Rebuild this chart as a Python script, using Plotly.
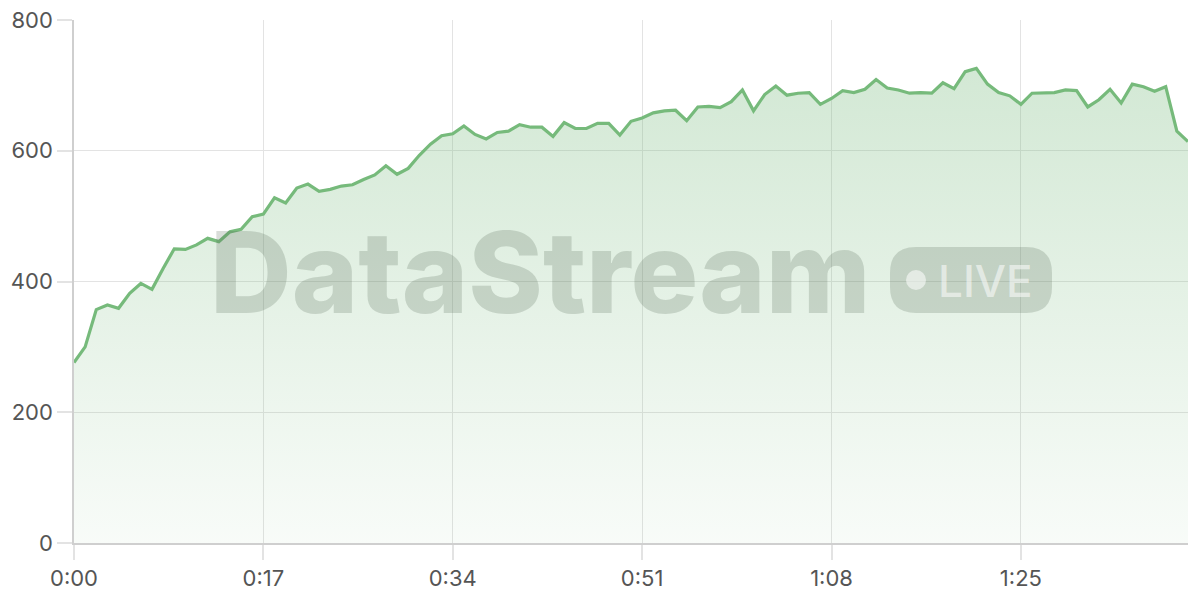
import plotly.graph_objects as go

# seconds since start, one sample per second
seconds = list(range(0, 101))
values = [
    276, 300, 357, 364, 359, 382, 397, 388, 420, 450,
    449, 456, 466, 461, 476, 480, 499, 503, 528, 520,
    543, 549, 538, 541, 546, 548, 556, 563, 577, 564,
    573, 593, 610, 623, 626, 638, 625, 618, 628, 630,
    640, 636, 636, 622, 643, 634, 634, 642, 642, 624,
    645, 650, 658, 661, 662, 646, 667, 668, 666, 675,
    693, 661, 686, 699, 685, 688, 689, 671, 680, 692,
    689, 694, 709, 696, 693, 688, 689, 688, 704, 695,
    721, 726, 702, 689, 684, 671, 688, 689, 689, 693,
    692, 667, 678, 694, 673, 702, 698, 691, 698, 630,
    614,
]

x_ticks = [0, 17, 34, 51, 68, 85]
x_tick_labels = ["0:00", "0:17", "0:34", "0:51", "1:08", "1:25"]
y_ticks = [0, 200, 400, 600, 800]

LINE = "rgb(118,186,123)"
GRID = "#e3e3e3"
WM = "rgba(80,100,80,0.22)"

fig = go.Figure()
fig.add_trace(go.Scatter(
    x=seconds, y=values, mode="lines",
    line=dict(color=LINE, width=3.2),
    fill="tozeroy",
    fillgradient=dict(
        type="vertical",
        colorscale=[[0, "rgba(116,184,122,0.05)"], [1, "rgba(116,184,122,0.32)"]],
    ),
    hoverinfo="skip",
    showlegend=False,
))

# watermark (positions below are in screen pixels of the plot area)
W, H, L, B = 1114.0, 523.0, 74.0, 543.0
px = lambda v: (v - L) / W
py = lambda v: (B - v) / H

fig.add_annotation(
    text="DataStream", xref="paper", yref="paper",
    x=px(540), y=py(272), xanchor="center", yanchor="middle",
    showarrow=False, font=dict(family="Inter", size=113, weight=800, color=WM),
)


def pill(x0, x1, y0, y1, r):
    # rounded rectangle, quadratic corners
    return (
        f"M {px(x0 + r)} {py(y0)} L {px(x1 - r)} {py(y0)} "
        f"Q {px(x1)} {py(y0)} {px(x1)} {py(y0 + r)} L {px(x1)} {py(y1 - r)} "
        f"Q {px(x1)} {py(y1)} {px(x1 - r)} {py(y1)} L {px(x0 + r)} {py(y1)} "
        f"Q {px(x0)} {py(y1)} {px(x0)} {py(y1 - r)} L {px(x0)} {py(y0 + r)} "
        f"Q {px(x0)} {py(y0)} {px(x0 + r)} {py(y0)} Z"
    )


fig.add_shape(type="path", xref="paper", yref="paper",
              path=pill(890, 1052, 247, 313, 26),
              fillcolor=WM, line=dict(width=0), layer="above")
fig.add_shape(type="circle", xref="paper", yref="paper",
              x0=px(906), x1=px(926), y0=py(290), y1=py(270),
              fillcolor="rgba(255,255,255,0.55)", line=dict(width=0), layer="above")
fig.add_annotation(
    text="LIVE", xref="paper", yref="paper",
    x=px(985), y=py(281), xanchor="center", yanchor="middle",
    showarrow=False,
    font=dict(family="Inter", size=44, weight=500, color="rgba(255,255,255,0.55)"),
)

# page body adds an 8px offset, margins compensate for it
fig.update_layout(
    width=1200, height=600,
    margin=dict(l=66, r=20, t=12, b=65),
    plot_bgcolor="white", paper_bgcolor="white",
    font=dict(family="Inter", size=22, color="#555"),
    xaxis=dict(
        range=[0, 100], tickvals=x_ticks, ticktext=x_tick_labels,
        showgrid=True, gridcolor=GRID, gridwidth=1,
        ticks="outside", ticklen=15, tickcolor=GRID, tickwidth=1.5,
        showline=True, linecolor="#cfcfcf", linewidth=1.5,
        zeroline=False, fixedrange=True, automargin=False,
        ticklabeloverflow="allow",
    ),
    yaxis=dict(
        range=[0, 800], tickvals=y_ticks,
        showgrid=True, gridcolor=GRID, gridwidth=1,
        ticks="outside", ticklen=15, tickcolor=GRID, tickwidth=1.5,
        showline=True, linecolor="#cfcfcf", linewidth=1.5,
        zeroline=False, fixedrange=True, automargin=False,
        ticklabeloverflow="allow",
    ),
)

fig.write_html("out.html")
